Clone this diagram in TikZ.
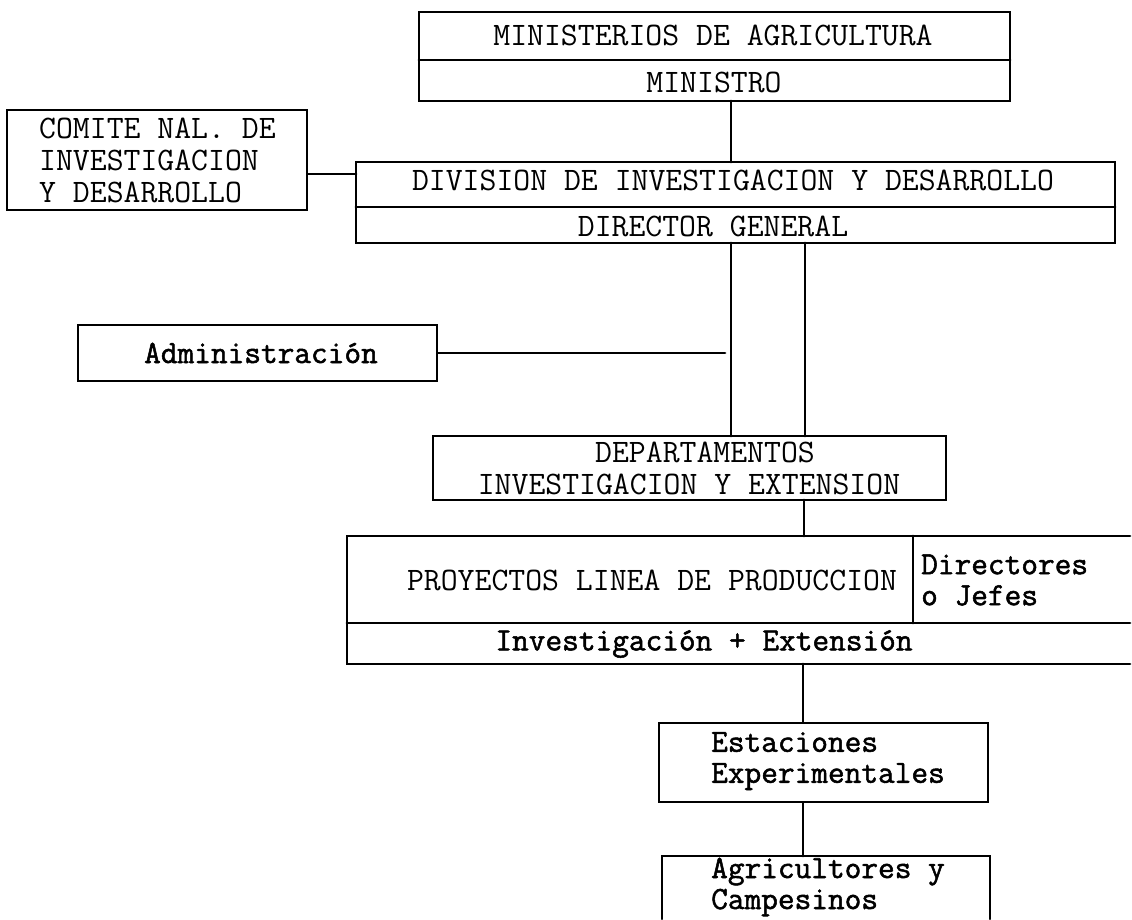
\documentclass[tikz,border=0pt]{standalone}
\usepackage{fontspec}
\newfontfamily\twfont[FakeBold=1.6]{Latin Modern Mono}
\newfontfamily\capfont{Latin Modern Mono}
\begin{document}
\begin{tikzpicture}[x=1pt,y=-1pt,
  ln/.style={line width=2.8pt, line cap=round},
  capt/.style={font=\capfont\fontsize{32.8}{38}\selectfont, inner sep=0pt, anchor=center},
  lowt/.style={font=\twfont\fontsize{32.4}{33}\selectfont, inner sep=0pt},
  lbox/.style={draw, line width=2.8pt}
]
\useasboundingbox (0,0) rectangle (1132,919);
% Ministerios
\draw[ln] (419,12) rectangle (1010,101);
\draw[ln] (419,60) -- (1010,60);
\node[capt] (min1) at (713,35) {MINISTERIOS DE AGRICULTURA};
\node[capt] (min2) at (714,82) {MINISTRO};
\coordinate (minB) at (731,101);
% Comite
\node[lbox, minimum width=300pt, minimum height=100pt, inner sep=0pt] (com) at (157,160) {};
\node[capt, anchor=west, align=left] (comt) at (39,160) {COMITE NAL. DE\\[-6pt]INVESTIGACION\\[-6pt]Y DESARROLLO};
% Division
\draw[ln] (356,162) rectangle (1115,243);
\draw[ln] (356,207) -- (1115,207);
\node[capt] (div1) at (733,180) {DIVISION DE INVESTIGACION Y DESARROLLO};
\node[capt] (div2) at (713,226) {DIRECTOR GENERAL};
\coordinate (divT) at (731,162);
\coordinate (divL) at (356,174);
\coordinate (divB1) at (731,243);
\coordinate (divB2) at (805,243);
% Administracion
\node[lbox, minimum width=359pt, minimum height=56pt, inner sep=0pt] (adm) at (257.5,353) {};
\node[lowt] (admt) at (261,353) {Administración};
\coordinate (admJ) at (725,353);
% Departamentos
\node[lbox, minimum width=513pt, minimum height=64pt, inner sep=0pt] (dep) at (689.5,468) {};
\node[capt] (dep1) at (705,452) {DEPARTAMENTOS};
\node[capt] (dep2) at (689,484) {INVESTIGACION Y EXTENSION};
\coordinate (depT1) at (731,436);
\coordinate (depT2) at (805,436);
\coordinate (depB) at (804,500);
% Proyectos
\coordinate (pTL) at (347,536);
\coordinate (pTR) at (1130,536);
\coordinate (pML) at (347,623);
\coordinate (pMR) at (1130,623);
\coordinate (pBL) at (347,664);
\coordinate (pBR) at (1130,664);
\draw[ln] (pTR) -- (pTL) -- (pBL) -- (pBR);
\draw[ln] (pML) -- (pMR);
\draw[ln] (913,536) -- (913,623);
\node[capt] (proyt) at (652,580) {PROYECTOS LINEA DE PRODUCCION};
\node[lowt, anchor=west, align=left] (dirt) at (921,580) {Directores\\[-2pt]o Jefes};
\node[lowt] (invt) at (704,644) {Investigación + Extensión};
\coordinate (pT) at (804,536);
\coordinate (pB) at (803,664);
% Estaciones
\node[lbox, minimum width=329pt, minimum height=79pt, inner sep=0pt] (est) at (823.5,762.5) {};
\node[lowt, anchor=west, align=left] (estt) at (711,761) {Estaciones\\[-2pt]Experimentales};
% Agricultores
\draw[ln] (662,919) -- (662,856) -- (990,856) -- (990,919);
\coordinate (agrT) at (803,856);
\node[lowt, anchor=west, align=left] (agrt) at (711,887) {Agricultores y\\[-2pt]Campesinos};
% connectors
\draw[ln] (minB) -- (divT);
\draw[ln] (com.east |- divL) -- (divL);
\draw[ln] (divB1) -- (depT1);
\draw[ln] (divB2) -- (depT2);
\draw[ln] (adm.east) -- (admJ);
\draw[ln] (depB) -- (pT);
\draw[ln] (pB) -- (est.north -| pB);
\draw[ln] (est.south -| pB) -- (agrT);
\end{tikzpicture}
\end{document}
